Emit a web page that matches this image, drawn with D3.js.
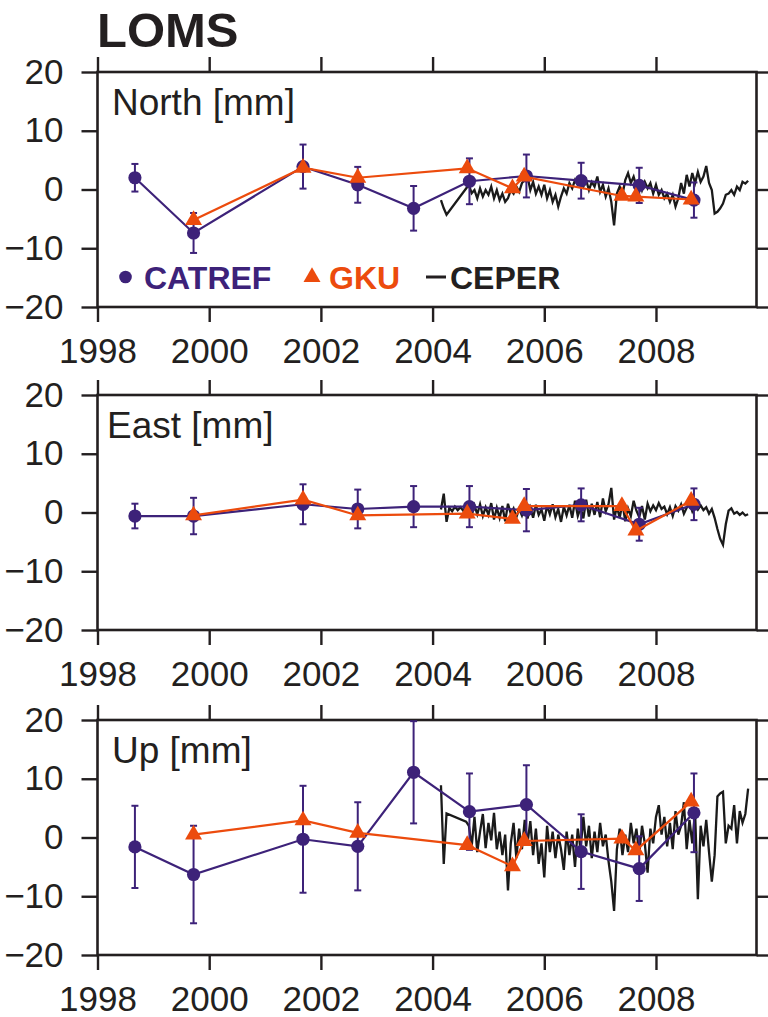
<!DOCTYPE html>
<html>
<head>
<meta charset="utf-8">
<script src="https://cdn.jsdelivr.net/npm/d3@7"></script>
<style>
  body { margin: 0; background: #fff; }
  svg { display: block; font-family: "Liberation Sans", Arial, sans-serif; }
</style>
</head>
<body>
<svg id="chart" width="768" height="1017"></svg>
<script>
// campaign epochs (decimal years)
const catrefYears = [1998.67, 1999.72, 2001.68, 2002.66, 2003.66, 2004.66, 2005.68, 2006.66, 2007.70, 2008.68];
const gkuYears = [1999.72, 2001.68, 2002.66, 2004.62, 2005.43, 2005.64, 2007.39, 2007.64, 2008.63];

const northCatref = [2.0, -7.4, 3.9, 0.8, -3.2, 1.4, 2.3, 1.5, 0.7, -1.8];
const northCatrefErr = [2.35, 3.4, 3.75, 3.05, 3.8, 3.9, 3.65, 3.05, 3.0, 3.0];
const northGku = [-5.2, 3.7, 2.0, 3.6, 0.2, 2.2, -1.1, -1.2, -1.7];

const eastCatref = [-0.6, -0.6, 1.4, 0.6, 1.0, 1.0, 0.4, 1.3, -2.0, 1.4];
const eastCatrefErr = [2.1, 3.1, 3.4, 3.3, 3.5, 3.5, 3.6, 2.8, 2.8, 2.7];
const eastGku = [-0.5, 2.2, -0.5, -0.2, -1.1, 1.1, 1.1, -3.1, 2.0];

const upCatref = [-1.6, -6.3, -0.3, -1.5, 11.1, 4.4, 5.6, -2.4, -5.3, 4.2];
const upCatrefErr = [7.0, 8.3, 9.1, 7.5, 8.7, 6.5, 6.7, 6.35, 5.5, 6.7];
const upGku = [0.5, 2.9, 0.8, -1.3, -4.9, -0.6, -0.2, -2.2, 6.1];

// CEPER continuous series, sampled every 0.05 yr from 2004.15 (null = no solution)
const ceperStart = 2004.15;
const ceperStep = 0.05;
const northCeper = [-1.8, -3.2, -4.3, null, null, null, null, null, null, null,
  0.8, -0.65, -0.1, -1.5, 0.2, -1.2, -0.1, -0.9, 0.5, -1.5,
  -0.1, -1.8, -0.7, -2.1, -1.5, -0.1, -0.7, 0.5, -0.4, 1.1,
  1.6, 2.2, -0.1, 1.3, -0.7, 0.5, -0.9, 0.8, -1.5, -0.1,
  -2.1, -0.9, -2.9, -1.2, 0.2, -0.7, 1.1, 0.2, 1.6, 0.8,
  1.9, 0.5, 1.6, -0.1, 1.3, 0.5, 2.2, -0.4, 0.8, -1.2,
  0.2, -2.1, -6.1, -0.7, 0.5, -0.9, 1.6, 2.8, 1.1, 2.2,
  0.5, 1.6, -0.1, 1.3, 0.2, 1.1, -0.7, 0.8, -0.9, -0.1,
  -1.5, -0.7, -2.1, -0.9, -2.9, -1.5, 1.1, -0.7, 2.5, 0.5,
  2.8, 1.1, 3.0, 1.3, 2.2, 4.0, 1.1, -0.1, -4.1, -3.8,
  -3.2, -2.4, -0.9, -0.7, -0.1, -0.9, 0.5, -0.1, 1.3, 1.0, 1.5];
const eastCeper = [0.5, 3.2, -1.6, 0.8, 0.2, 1.0, 0.4, 0.9, 0.3, 1.0,
  0.5, -0.5, 1.2, -0.3, 1.4, -0.6, 0.9, -0.4, 1.6, -1.2,
  0.8, -0.9, 1.1, -1.5, 1.5, -0.2, 0.7, -0.8, 0.6, -0.5,
  0.9, -1.0, 0.8, -0.9, 1.3, -0.4, 0.5, -1.4, 1.2, -0.3,
  1.4, -0.8, 0.6, -1.6, 1.0, -0.5, 1.3, -0.9, 2.0, -0.6,
  0.8, -1.0, 2.2, -0.7, 1.5, -0.4, 1.8, -0.8, 2.4, 0.2,
  1.4, 4.2, -1.2, 1.0, -0.9, 1.6, -1.5, 0.7, -0.6, 2.0,
  0.3, -0.8, 1.1, -1.2, 1.5, 0.2, 1.2, 0.4, 1.6, 0.6,
  1.0, -0.3, 0.9, -0.6, 1.1, 0.3, 1.4, -0.2, 0.8, 1.7,
  0.2, 1.3, 0.5, 1.2, 0.4, 0.9, -0.2, 0.6, -0.9, -2.8,
  -4.5, -5.5, -2.0, 0.3, 0.7, -0.2, 0.1, -0.4, 0.0, -0.5, -0.3];
const upCeper = [8.9, -4.5, 4.1, null, null, null, null, null, null, 2.7,
  2.0, -1.5, 3.5, -2.5, 1.0, 4.0, -1.8, 2.5, -0.5, 4.2,
  -2.0, 1.0, -3.0, 0.5, -9.0, -1.0, 2.5, -3.5, 1.5, -2.0,
  3.0, -1.0, 2.8, -3.0, 1.5, -4.5, -1.0, -6.8, 2.0, -2.5,
  1.0, -3.5, 0.5, -2.0, -5.5, 1.0, -3.0, 0.5, -5.0, 1.5,
  -2.0, 3.5, -1.5, 2.0, -3.5, 1.0, -2.5, 2.5, -1.5, 0.5,
  -4.0, -7.5, -12.5, -2.0, 1.5, -3.0, 0.5, -2.5, 2.5, -1.0,
  1.5, -3.0, 2.0, -1.0, -6.0, 1.5, -1.0, 3.5, 5.5, 0.5,
  3.5, -1.5, 2.5, -2.0, 4.5, 0.5, 2.0, 6.0, -2.0, 3.0,
  -1.0, 4.5, -10.5, 2.0, -1.5, 3.0, -2.5, -7.5, -3.0, 7.0,
  7.5, 7.8, -1.0, 2.0, 1.5, 5.5, -1.0, 4.5, 2.5, 4.0, 8.3];

const panelNames = ["North [mm]", "East [mm]", "Up [mm]"];
const yearTicks = [1998, 2000, 2002, 2004, 2006, 2008];
const valueTicks = [-20, -10, 0, 10, 20];
const legendLabels = ["CATREF", "GKU", "CEPER"];

const purple = "#3d2279";
const orange = "#ec4b0d";
const ink = "#231f20";

const svg = d3.select("#chart");
const panelTops = [72, 395, 720];
const panelH = 235;
const panelLabelX = [112, 107, 112];

const x = d3.scaleLinear().domain([1998, 2009.8]).range([97.5, 756.5]);

const panels = [
  { name: panelNames[0], catref: northCatref, err: northCatrefErr, gku: northGku, ceper: northCeper },
  { name: panelNames[1], catref: eastCatref, err: eastCatrefErr, gku: eastGku, ceper: eastCeper },
  { name: panelNames[2], catref: upCatref, err: upCatrefErr, gku: upGku, ceper: upCeper }
];

svg.append("text")
  .attr("x", 97)
  .attr("y", 47)
  .attr("font-size", 49)
  .attr("font-weight", "bold")
  .attr("fill", ink)
  .text("LOMS");

const triangle = d3.symbol().type(d3.symbolTriangle).size(125);

panels.forEach((p, k) => {
  const top = panelTops[k];
  const y = d3.scaleLinear().domain([-20, 20]).range([top + panelH, top]);
  const g = svg.append("g");

  // axes
  const axB = g.append("g")
    .attr("transform", `translate(0,${top + panelH})`)
    .call(d3.axisBottom(x).tickValues(yearTicks).tickFormat(d3.format("d"))
      .tickSize(15).tickSizeOuter(0).tickPadding(16));
  const axT = g.append("g")
    .attr("transform", `translate(0,${top})`)
    .call(d3.axisTop(x).tickValues(yearTicks).tickFormat("").tickSize(15).tickSizeOuter(0));
  const axL = g.append("g")
    .attr("transform", `translate(${x.range()[0]},0)`)
    .call(d3.axisLeft(y).tickValues(valueTicks).tickSize(16).tickSizeOuter(0).tickPadding(18));
  const axR = g.append("g")
    .attr("transform", `translate(${x.range()[1]},0)`)
    .call(d3.axisRight(y).tickValues(valueTicks).tickFormat("").tickSize(15).tickSizeOuter(0));
  [axB, axT, axL, axR].forEach((a) => {
    a.select(".domain").remove();
    a.selectAll("line").attr("stroke", ink).attr("stroke-width", 2.4);
    a.selectAll("text").attr("fill", ink).attr("font-size", 35)
      .attr("font-family", "Liberation Sans, Arial, sans-serif");
  });

  g.append("rect")
    .attr("x", x.range()[0])
    .attr("y", top)
    .attr("width", x.range()[1] - x.range()[0])
    .attr("height", panelH)
    .attr("fill", "none")
    .attr("stroke", ink)
    .attr("stroke-width", 2.6);

  g.append("text")
    .attr("x", panelLabelX[k])
    .attr("y", top + 43)
    .attr("font-size", 37)
    .attr("fill", ink)
    .text(p.name);

  // CEPER
  const cep = p.ceper.map((v, i) => ({ t: ceperStart + i * ceperStep, v }))
    .filter((d) => d.v !== null);
  g.append("path")
    .datum(cep)
    .attr("fill", "none")
    .attr("stroke", "#1a1a1a")
    .attr("stroke-width", 2.3)
    .attr("stroke-linejoin", "miter")
    .attr("d", d3.line().x((d) => x(d.t)).y((d) => y(d.v)));

  // CATREF
  const cat = catrefYears.map((t, i) => ({ t, v: p.catref[i], e: p.err[i] }));
  const eb = g.append("g").attr("stroke", purple).attr("stroke-width", 2);
  cat.forEach((d) => {
    const cx = x(d.t);
    eb.append("line").attr("x1", cx).attr("x2", cx).attr("y1", y(d.v + d.e)).attr("y2", y(d.v - d.e));
    eb.append("line").attr("x1", cx - 3.5).attr("x2", cx + 3.5).attr("y1", y(d.v + d.e)).attr("y2", y(d.v + d.e));
    eb.append("line").attr("x1", cx - 3.5).attr("x2", cx + 3.5).attr("y1", y(d.v - d.e)).attr("y2", y(d.v - d.e));
  });
  g.append("path")
    .datum(cat)
    .attr("fill", "none")
    .attr("stroke", purple)
    .attr("stroke-width", 2.2)
    .attr("d", d3.line().x((d) => x(d.t)).y((d) => y(d.v)));
  g.selectAll(".cat")
    .data(cat)
    .enter().append("circle")
    .attr("cx", (d) => x(d.t))
    .attr("cy", (d) => y(d.v))
    .attr("r", 6.6)
    .attr("fill", purple);

  // GKU
  const gk = gkuYears.map((t, i) => ({ t, v: p.gku[i] }));
  g.append("path")
    .datum(gk)
    .attr("fill", "none")
    .attr("stroke", orange)
    .attr("stroke-width", 2.2)
    .attr("d", d3.line().x((d) => x(d.t)).y((d) => y(d.v)));
  g.selectAll(".gku")
    .data(gk)
    .enter().append("path")
    .attr("d", triangle)
    .attr("transform", (d) => `translate(${x(d.t)},${y(d.v)})`)
    .attr("fill", orange);

  // legend in first panel
  if (k === 0) {
    const ly = top + 205;
    const lg = g.append("g").attr("font-size", 32).attr("font-weight", "bold");
    lg.append("circle").attr("cx", 125.5).attr("cy", ly).attr("r", 6.3).attr("fill", purple);
    lg.append("text").attr("x", 144).attr("y", ly + 12).attr("fill", purple).text(legendLabels[0]);
    lg.append("path").attr("d", triangle).attr("transform", `translate(312,${ly})`).attr("fill", orange);
    lg.append("text").attr("x", 329).attr("y", ly + 12).attr("fill", orange).text(legendLabels[1]);
    lg.append("line").attr("x1", 426).attr("x2", 446).attr("y1", ly).attr("y2", ly)
      .attr("stroke", ink).attr("stroke-width", 3);
    lg.append("text").attr("x", 450).attr("y", ly + 12).attr("fill", ink).text(legendLabels[2]);
  }
});
</script>
</body>
</html>
